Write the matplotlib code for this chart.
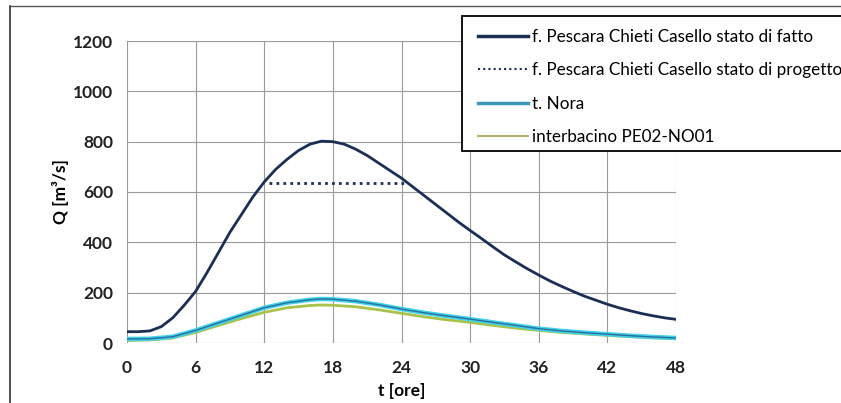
import matplotlib
matplotlib.use("Agg")
import matplotlib.pyplot as plt
from matplotlib.lines import Line2D
from matplotlib.patches import Rectangle

plt.rcParams['font.family'] = ['Lato', 'DejaVu Sans']

t_ore = list(range(0, 49))
q_fatto = [45, 45, 48, 65, 100, 150, 205, 280, 360, 440, 510, 580, 640, 690, 730, 765,
           790, 802, 800, 790, 770, 745, 715, 685, 655, 620, 585, 550, 515, 480, 447,
           415, 382, 350, 322, 295, 270, 246, 225, 205, 186, 170, 154, 140, 128, 117,
           108, 100, 94]
t_prog = [12.4, 24.6]
q_prog = [635, 635]
t_sub = [0, 2, 4, 6, 8, 10, 12, 14, 16, 17, 18, 20, 22, 24, 26, 28, 30, 32, 34, 36,
         38, 40, 42, 44, 46, 48]
q_nora = [16, 17, 25, 50, 80, 110, 140, 160, 172, 175, 174, 166, 152, 135, 120, 107,
          95, 82, 70, 57, 48, 41, 35, 29, 24, 20]
q_inter = [10, 12, 20, 42, 70, 97, 122, 140, 149, 151, 150, 144, 132, 118, 104, 92,
           82, 70, 59, 50, 42, 36, 30, 25, 20, 17]

labels = ["f. Pescara Chieti Casello stato di fatto",
          "f. Pescara Chieti Casello stato di progetto",
          "t. Nora",
          "interbacino PE02-NO01"]
xticks = [0, 6, 12, 18, 24, 30, 36, 42, 48]
yticks = [0, 200, 400, 600, 800, 1000, 1200]

fig = plt.figure(figsize=(8.41, 4.03), dpi=100)
ax = fig.add_axes([127/841, 1-343/403, (676-127)/841, (343-41)/403])

ax.plot(t_sub, q_inter, color='#a8c24a', lw=2.0, zorder=3)
ax.plot(t_sub, q_nora, color='#3fd0ec', lw=3.2, zorder=4)
ax.plot(t_sub, q_nora, color='#2a6f9a', lw=1.0, zorder=5)
ax.plot(t_ore, q_fatto, color='#1b2f55', lw=2.0, zorder=6)
ax.plot(t_prog, q_prog, color='#1b2f55', lw=2.0, ls=(0, (1, 1.5)), zorder=6)

ax.set_xlim(0, 48)
ax.set_ylim(0, 1200)
ax.set_xticks(xticks)
ax.set_yticks(yticks)
ax.grid(True, color='#9a9a9a', lw=0.8)
ax.set_axisbelow(True)
for s in ax.spines.values():
    s.set_visible(False)
ax.tick_params(axis='y', length=0, labelsize=12.5, pad=10)
ax.tick_params(axis='x', length=0, labelsize=12.5, pad=12)
for lab in ax.get_xticklabels() + ax.get_yticklabels():
    lab.set_fontweight('bold')
    lab.set_color('#222222')
ax.set_xlabel("t [ore]", fontsize=12.5, fontweight='bold', labelpad=5)
ax.set_ylabel("Q [m³/s]", fontsize=12.5, fontweight='bold', labelpad=3)

fig.add_artist(Rectangle((462/841, 1-151/403), (900-462)/841, (151-16)/403,
                         transform=fig.transFigure, facecolor='white', edgecolor='black',
                         lw=1.3, clip_on=False, zorder=4))

handles = [Line2D([], [], color='#1b2f55', lw=2.5),
           Line2D([], [], color='#1b2f55', lw=1.5, ls=(0, (1, 1.5))),
           Line2D([], [], color='#3a9ab5', lw=2.5),
           Line2D([], [], color='#b8b070', lw=1.5)]
leg = fig.legend(handles, labels, loc='upper left', bbox_to_anchor=(463/841, 1-14/403),
                 frameon=False, fontsize=12.3, handlelength=2.9, labelspacing=1.0,
                 borderpad=0.4, handletextpad=0.25)
leg.set_zorder(6)

fig.add_artist(Line2D([10/841, 10/841], [0, 1-6/403], color='#333333', lw=1.2))
fig.add_artist(Line2D([10/841, 1], [1-6/403, 1-6/403], color='#555555', lw=1.0))

fig.savefig("out.png", dpi=100)
